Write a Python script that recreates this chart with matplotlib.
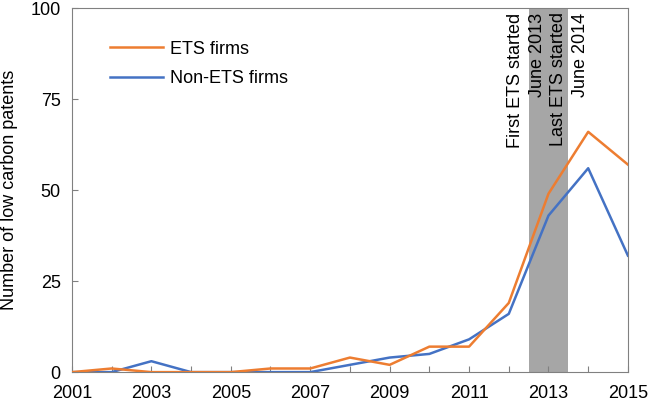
import matplotlib.pyplot as plt

plt.rcParams['font.family'] = ['Liberation Sans', 'DejaVu Sans']

years = list(range(2001, 2016))
ets = [0, 1, 0, 0, 0, 1, 1, 4, 2, 7, 7, 19, 49, 66, 57]
non_ets = [0, 0, 3, 0, 0, 0, 0, 2, 4, 5, 9, 16, 43, 56, 32]
band = (2012.5, 2013.5)
annotations = [
    (2012.18, 'First ETS started'),
    (2012.72, 'June 2013'),
    (2013.25, 'Last ETS started'),
    (2013.8, 'June 2014'),
]

fig = plt.figure(figsize=(6.48, 4.01), dpi=100)
ax = fig.add_axes([0.111, 0.072, 0.858, 0.908])

ax.axvspan(band[0], band[1], color='#a6a6a6', lw=0, zorder=1)
ax.plot(years, ets, color='#ed7d31', lw=1.8, label='ETS firms', zorder=3)
ax.plot(years, non_ets, color='#4472c4', lw=1.8, label='Non-ETS firms', zorder=2)

for x, txt in annotations:
    ax.text(x, 98.8, txt, rotation=90, ha='center', va='top', fontsize=13, zorder=4)

ax.set_xlim(2001, 2015)
ax.set_ylim(0, 100)
ax.set_xticks(range(2001, 2016))
ax.set_xticklabels([str(y) if (y - 2001) % 2 == 0 else '' for y in years])
ax.set_yticks([0, 25, 50, 75, 100])
ax.tick_params(direction='in', length=4, color='#808080', labelsize=13)
ax.tick_params(axis='x', pad=9)
ax.tick_params(axis='y', pad=8)
for s in ax.spines.values():
    s.set_color('#808080')
ax.set_ylabel('Number of low carbon patents', fontsize=13)
ax.yaxis.set_label_coords(-0.097, 0.5)

ax.legend(loc='upper left', bbox_to_anchor=(0.04, 0.955), frameon=False, fontsize=13,
          handlelength=2.9, labelspacing=0.7, handletextpad=0.4)

fig.savefig('out.png', dpi=100)
